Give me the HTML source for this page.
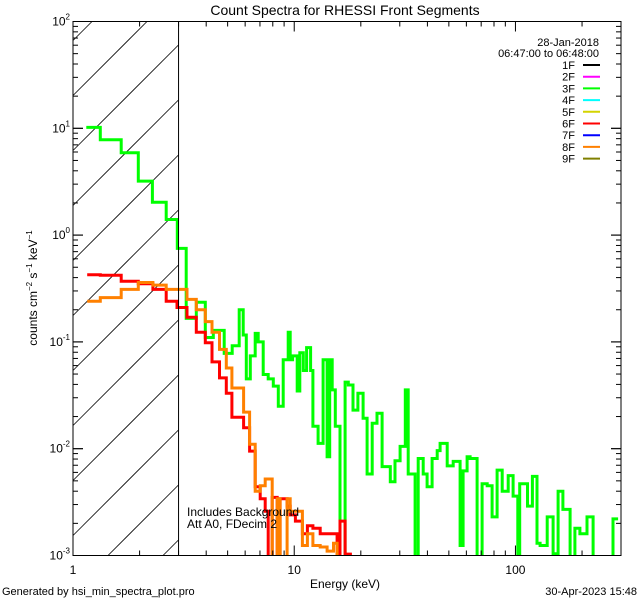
<!DOCTYPE html>
<html><head><meta charset="utf-8"><style>
html,body{margin:0;padding:0;background:#fff;width:640px;height:600px;overflow:hidden}
svg{display:block}
text{font-family:"Liberation Sans",sans-serif;fill:#000}
</style></head><body>
<svg id="chart" width="640" height="600" viewBox="0 0 640 600" xmlns="http://www.w3.org/2000/svg" style="overflow:hidden">
<defs><clipPath id="pc"><rect x="73" y="21.5" width="548" height="534"/></clipPath></defs>
<rect width="640" height="600" fill="#fff"/>
<text x="345" y="15" font-size="14" text-anchor="middle">Count Spectra for RHESSI Front Segments</text>
<g id="hatch"></g>
<g id="series" clip-path="url(#pc)"></g>
<g id="axes"></g>
<text x="187" y="516" font-size="12">Includes Background</text>
<text x="187" y="528" font-size="12">Att A0, FDecim 2</text>
<text x="345" y="588" font-size="12" text-anchor="middle">Energy (keV)</text>
<text transform="translate(37,288) rotate(-90)" font-size="12" text-anchor="middle">counts cm<tspan dy="-5" font-size="8">−2</tspan><tspan dy="5"> s</tspan><tspan dy="-5" font-size="8">−1</tspan><tspan dy="5"> keV</tspan><tspan dy="-5" font-size="8">−1</tspan></text>
<text x="2" y="595" font-size="11">Generated by hsi_min_spectra_plot.pro</text>
<text x="637" y="595" font-size="11" text-anchor="end">30-Apr-2023 15:48</text>
<text x="599" y="46" font-size="11" text-anchor="end">28-Jan-2018</text>
<text x="599" y="57" font-size="11" text-anchor="end">06:47:00 to 06:48:00</text>
<g id="legend"></g>
</svg>
<script>
const xTickLabels=["1","10","100"];
const xTickValues=[1,10,100];
const yTickExp=["2","1","0","-1","-2","-3"];
const yTickValues=[100,10,1,0.1,0.01,0.001];
const legendLabels=["1F","2F","3F","4F","5F","6F","7F","8F","9F"];
const legendColors=["#000000","#ff00ff","#00ff00","#00ffff","#d4d400","#ff0000","#0000ff","#ff8000","#808000"];
const attenuatorEdge=3;

const greenEdges=[1.149,1.329,1.651,1.973,2.286,2.638,2.962,3.248,3.61,3.963,4.307,4.824,5.245,5.638,5.878,6.07,6.329,6.665,6.876,7.241,7.626,8.039,8.472,8.915,9.397,9.59,9.83,10.31,10.6,10.99,11.37,11.86,12.15,12.82,13.5,14.08,14.47,14.85,15.34,16.11,16.98,17.56,18.44,19.41,20.48,21.35,22.52,23.68,24.95,25.82,27.18,28.55,30.11,31.77,32.74,35.18,36.35,38.3,39.86,42.01,44.27,45.64,49.16,52.3,56.22,57.99,60.44,62.4,67.12,70.65,74.49,78.42,82.65,87.09,92.7,97.6,102.5,104.5,113.4,119.3,125.2,129.2,139.1,148.0,155.9,163.8,176.7,185.7,195.6,210.5,224.4,236.3,276.1,291];
const greenValues=[10.2,7.8,5.9,3.2,2.03,1.40,0.75,0.166,0.235,0.110,0.128,0.078,0.092,0.20,0.116,0.045,0.074,0.12,0.10,0.0495,0.045,0.0386,0.025,0.068,0.123,0.068,0.074,0.0347,0.079,0.054,0.0885,0.054,0.0162,0.0112,0.068,0.0084,0.068,0.0355,0.0162,0.0008,0.042,0.0395,0.023,0.033,0.0193,0.0058,0.0173,0.0215,0.0068,0.0068,0.0049,0.0077,0.0105,0.0355,0.0058,0.0008,0.0081,0.0058,0.0044,0.0081,0.0096,0.0112,0.0069,0.0076,0.00124,0.0062,0.0084,0.0081,0.0008,0.0047,0.0045,0.0023,0.0063,0.0040,0.0056,0.0036,0.0008,0.0047,0.0029,0.0055,0.0013,0.00124,0.0023,0.00104,0.0040,0.0027,0.0008,0.0018,0.0016,0.0023,0.0008,0.0008,0.0022];
const redEdges=[1.159,1.329,1.651,1.973,2.296,2.638,2.953,3.276,3.61,3.963,4.25,4.594,4.929,5.226,5.907,6.282,6.665,7.02,7.395,7.626,7.952,8.376,8.637,9.29,9.59,10.12,10.89,11.47,12.15,13.11,14.27,15.63,16.11,16.98,17.95,19.41];
const redValues=[0.425,0.42,0.37,0.35,0.31,0.24,0.21,0.17,0.123,0.098,0.065,0.046,0.033,0.0197,0.0157,0.0095,0.0044,0.0034,0.0026,0.0008,0.0035,0.0008,0.0034,0.0029,0.0024,0.0021,0.0016,0.0019,0.0018,0.0016,0.0016,0.00101,0.0021,0.00103,0.00094];
const orangeEdges=[1.159,1.329,1.651,1.973,2.296,2.638,2.953,3.276,3.61,3.963,4.25,4.594,4.929,5.226,5.907,6.282,6.665,7.02,7.395,7.952,8.376,8.637,9.29,9.59,10.12,10.89,11.47,12.15,13.11,14.08,15.05,15.63,16.79,20.96];
const orangeValues=[0.24,0.26,0.31,0.36,0.34,0.31,0.31,0.25,0.2,0.155,0.123,0.085,0.057,0.037,0.022,0.011,0.0040,0.0045,0.0052,0.0008,0.0034,0.0008,0.0034,0.0026,0.0026,0.00124,0.0016,0.00124,0.0012,0.0011,0.0013,0.00095,0.0009];

const X0=73,X1=621,Y0=21.5,Y1=555.5,XMIN=1,XMAX=300,YMIN=0.001,YMAX=100;
const NS="http://www.w3.org/2000/svg";
function xs(e){return X0+(Math.log10(e)-Math.log10(XMIN))/(Math.log10(XMAX)-Math.log10(XMIN))*(X1-X0);}
function ys(v){return Y1-(Math.log10(v)-Math.log10(YMIN))/(Math.log10(YMAX)-Math.log10(YMIN))*(Y1-Y0);}
function mk(tag,attrs,parent){const el=document.createElementNS(NS,tag);for(const k in attrs)el.setAttribute(k,attrs[k]);parent.appendChild(el);return el;}

// hatch lines: y = c - (x - X0), clipped to [X0, xEdge] x [Y0, Y1]
const hatch=document.getElementById('hatch');
const xEdge=xs(attenuatorEdge);
for(let k=-12;k<14;k++){
  const c=Y1-20+k*55;
  let xa=X0, ya=c;
  if(ya>Y1){xa=X0+(ya-Y1);ya=Y1;}
  let xb=xEdge, yb=c-(xEdge-X0);
  if(yb<Y0){xb=X0+(c-Y0);yb=Y0;}
  if(xa>=xb||ya<Y0||yb>Y1)continue;
  const ln=mk('line',{x1:xa.toFixed(1),y1:ya.toFixed(1),x2:xb.toFixed(1),y2:yb.toFixed(1),stroke:'#000','stroke-width':0.8},hatch);
  
  
}
const ax=document.getElementById('axes');
const vl=mk('line',{x1:xEdge,y1:Y0,x2:xEdge,y2:Y1,stroke:'#000','stroke-width':1},ax);



function clampY(y){return Math.min(Y1+2,Math.max(Y0-2,y));}
function stepPath(edges,vals){
  let d='';
  for(let i=0;i<vals.length;i++){
    const y=clampY(ys(vals[i]));
    d+=(i===0?'M':'L')+xs(edges[i]).toFixed(1)+','+y.toFixed(1)+'L'+xs(edges[i+1]).toFixed(1)+','+y.toFixed(1);
  }
  return d;
}
const sg=document.getElementById('series');
const pg=mk('path',{d:stepPath(greenEdges,greenValues),fill:'none',stroke:'#00ff00','stroke-width':3},sg);


const pr=mk('path',{d:stepPath(redEdges,redValues),fill:'none',stroke:'#ff0000','stroke-width':3},sg);


const po=mk('path',{d:stepPath(orangeEdges,orangeValues),fill:'none',stroke:'#ff8000','stroke-width':3},sg);



const fr=mk('rect',{x:X0,y:Y0,width:X1-X0,height:Y1-Y0,fill:'none',stroke:'#000','stroke-width':1},ax);



for(let d=1;d<=100;d*=10){for(let m=1;m<=9;m++){const e=d*m;if(e>XMAX)break;const x=xs(e);const L=m===1?10:5;
  const t1=mk('line',{x1:x,y1:Y1,x2:x,y2:Y1-L,stroke:'#000','stroke-width':1},ax);
  
  
  const t2=mk('line',{x1:x,y1:Y0,x2:x,y2:Y0+L,stroke:'#000','stroke-width':1},ax);
  
  
}}
xTickValues.forEach((v,i)=>{const t=mk('text',{x:xs(v),y:574,'font-size':12,'text-anchor':'middle'},ax);t.textContent=xTickLabels[i];
  
  });
for(let d=0.001;d<=10.0001;d*=10){for(let m=1;m<=10;m++){const v=d*m;const y=ys(v);const L=(m===1||m===10)?10:5;
  const t1=mk('line',{x1:X0,y1:y,x2:X0+L,y2:y,stroke:'#000','stroke-width':1},ax);
  
  
  const t2=mk('line',{x1:X1,y1:y,x2:X1-L,y2:y,stroke:'#000','stroke-width':1},ax);
  
  
}}
yTickValues.forEach((v,i)=>{const y=ys(v);const t=mk('text',{x:X0-3,y:y+4,'font-size':12,'text-anchor':'end'},ax);
  
  
  const a=document.createElementNS(NS,'tspan');a.textContent='10';t.appendChild(a);
  const b=document.createElementNS(NS,'tspan');b.setAttribute('dy','-6');b.setAttribute('font-size','8');b.textContent=yTickExp[i];t.appendChild(b);});
const lg=document.getElementById('legend');
legendLabels.forEach((lab,i)=>{const y=65+i*11.7;
  const t=mk('text',{x:575,y:y+4,'font-size':11,'text-anchor':'end'},lg);t.textContent=lab;
  
  
  const l=mk('line',{x1:583,y1:y,x2:600,y2:y,stroke:legendColors[i],'stroke-width':2},lg);
  
  });
</script>
</body></html>
